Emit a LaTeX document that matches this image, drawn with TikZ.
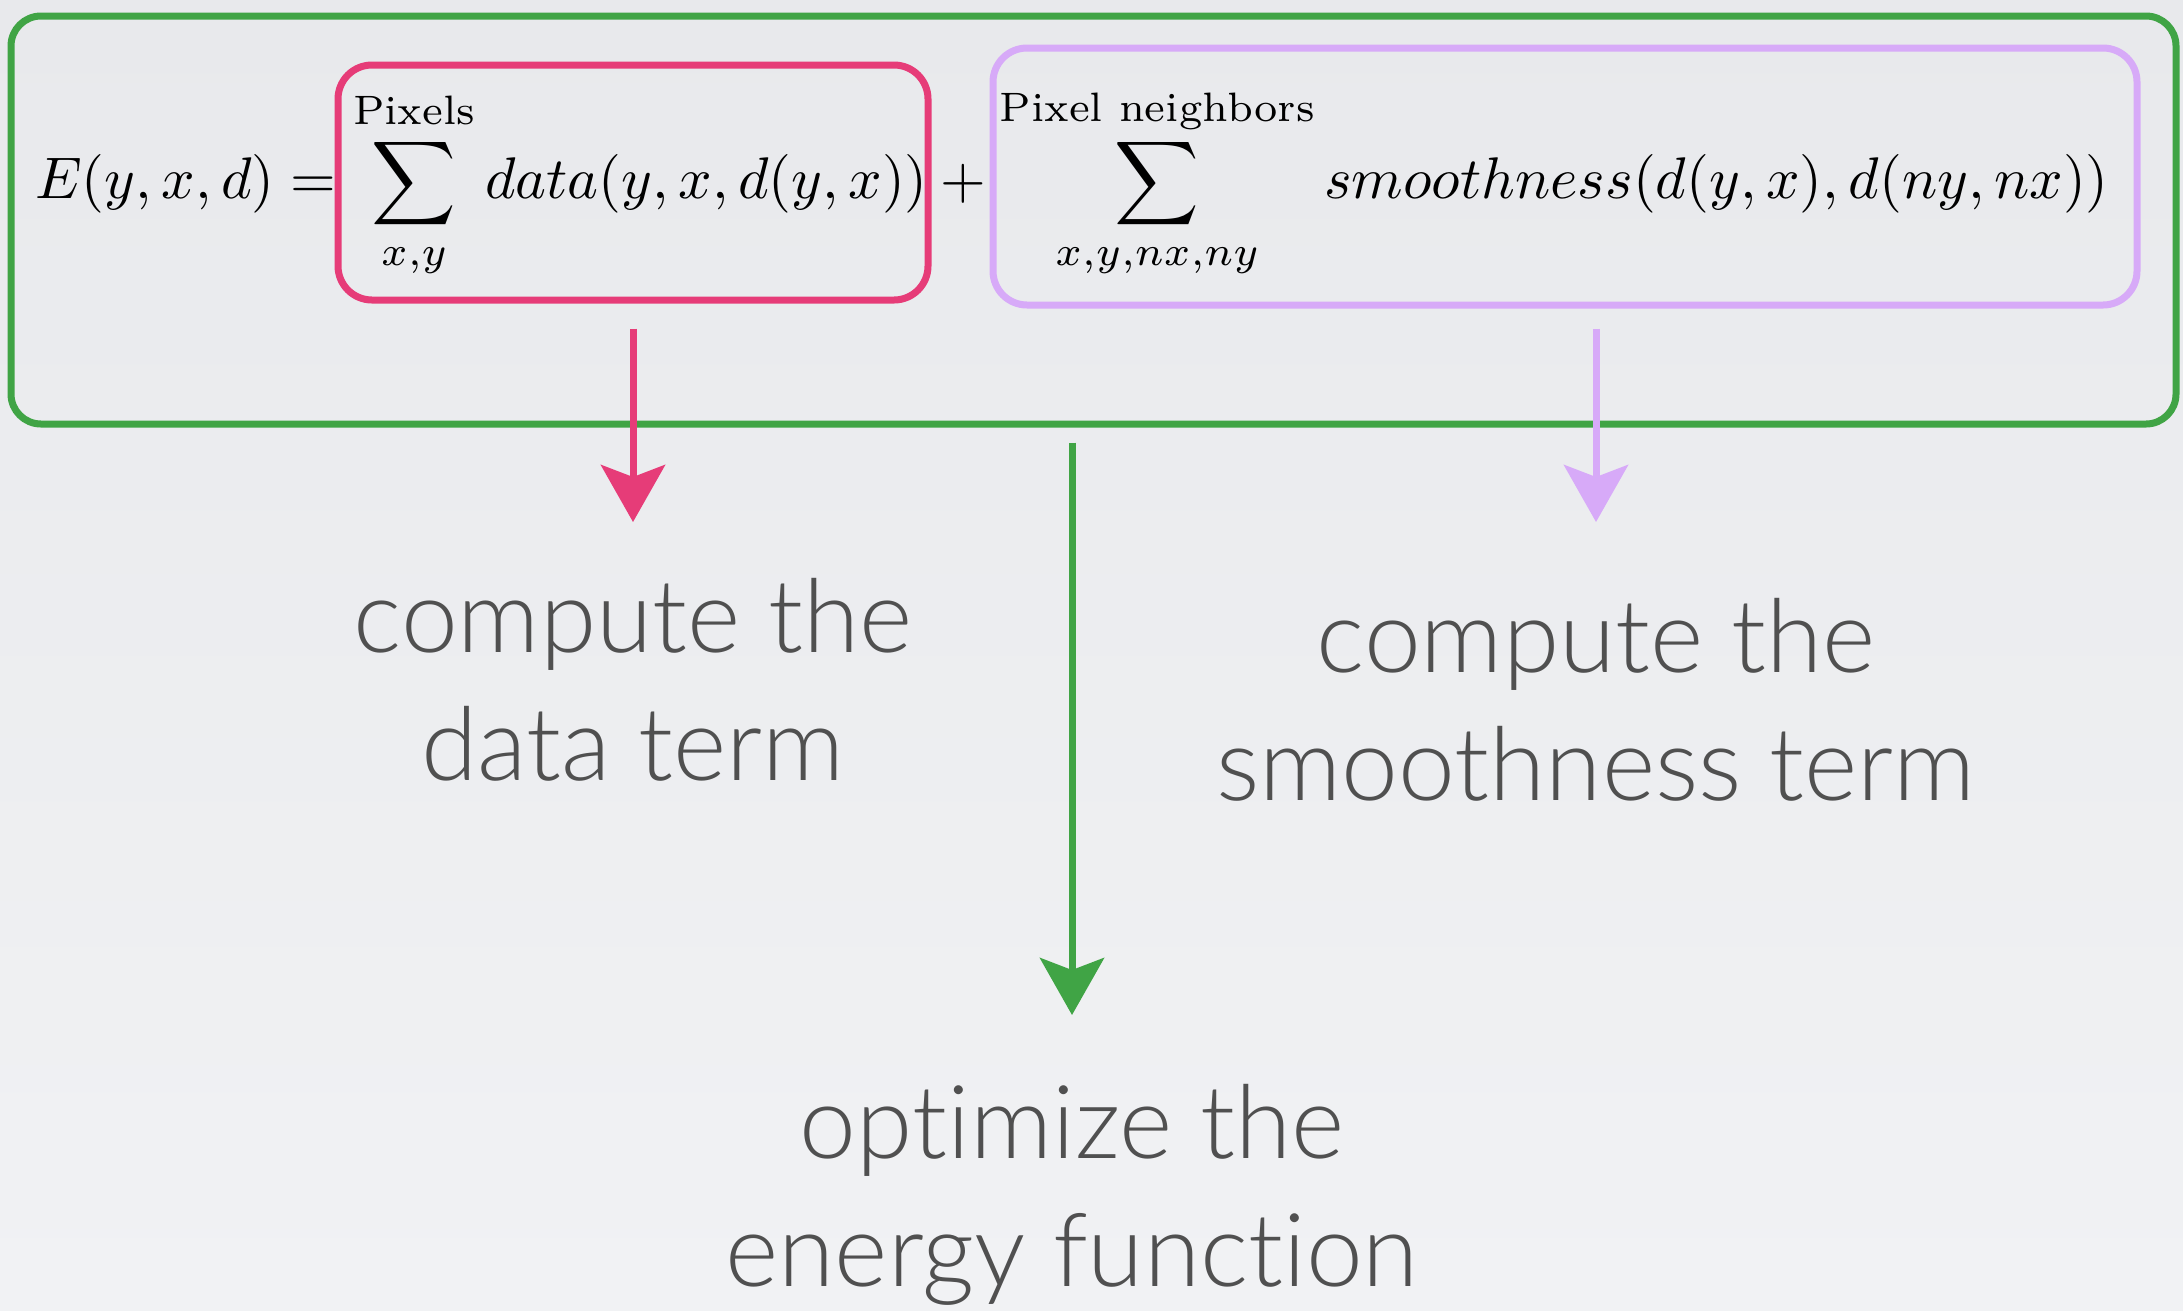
\documentclass[tikz,border=0pt]{standalone}
\usepackage{amsmath}
\usepackage{graphicx}
\usepackage{fontspec}
\newfontfamily\labfont{Lato}[UprightFont={* Light}, Ligatures={NoCommon,NoContextual}]
\usetikzlibrary{arrows.meta}
\definecolor{gboxc}{HTML}{40A445}
\definecolor{pboxc}{HTML}{E63C78}
\definecolor{vboxc}{HTML}{D7AAF8}
\definecolor{txtc}{HTML}{505050}
\definecolor{bgtop}{HTML}{E8E9EC}
\definecolor{bgbot}{HTML}{F1F2F4}
\begin{document}
\begin{tikzpicture}[x=1pt,y=-1pt,
  brushbox/.style={draw=#1, line width=7pt, rounded corners=34pt, inner sep=0pt, fill=none},
  lab/.style={font=\labfont\fontsize{102}{128}\selectfont, text=txtc, align=center, inner sep=0pt},
  arr/.style={draw=#1, line width=7pt, -{Stealth[length=57pt,width=64pt,inset=12pt]}}]
\useasboundingbox (0,0) rectangle (2183,1310);
\shade[top color=bgtop, bottom color=bgbot] (0,0) rectangle (2183,1310);
% formula
\node[anchor=base west, inner sep=0pt] (formula) at (35,198)
  {\scalebox{5.87}{$\displaystyle E(y,x,d) = \sum^{\text{Pixels}}_{x,y} data(y,x,d(y,x)) + \sum^{\text{Pixel neighbors}}_{x,y,nx,ny} smoothness(d(y,x),d(ny,nx))$}};
% boxes
\node[brushbox=gboxc, rounded corners=30pt, minimum width=2165pt, minimum height=408pt] (energybox) at (1093.5,220) {};
\node[brushbox=pboxc, minimum width=590pt, minimum height=235pt] (databox) at (633,182.5) {};
\node[brushbox=vboxc, minimum width=1144pt, minimum height=257pt] (smoothbox) at (1565,176.5) {};
% labels
\node[lab, anchor=north] (dataterm) at (633,578) {compute the\\data term};
\node[lab, anchor=north] (smoothterm) at (1596,598) {compute the\\smoothness term};
\node[lab, anchor=north] (optterm) at (1072,1084) {optimize the\\energy function};
% arrows
\draw[arr=pboxc, shorten >=56pt] ([yshift=-25pt]databox.south) -- (dataterm.north);
\draw[arr=vboxc, shorten >=76pt] ([yshift=-20pt]smoothbox.south -| smoothterm.north) -- (smoothterm.north);
\draw[arr=gboxc, shorten >=69pt] ([yshift=-15pt]energybox.south -| optterm.north) -- (optterm.north);
\end{tikzpicture}
\end{document}
